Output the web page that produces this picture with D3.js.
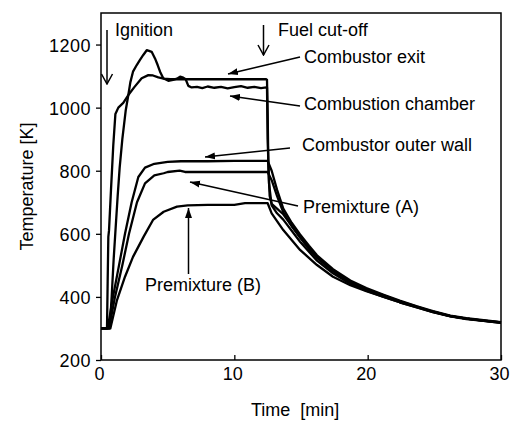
<!DOCTYPE html>
<html>
<head>
<meta charset="utf-8">
<script src="https://cdn.jsdelivr.net/npm/d3@7/dist/d3.min.js"></script>
<style>
  body { margin: 0; background: #fff; }
  text { font-family: "Liberation Sans", Arial, sans-serif; fill: #000; }
</style>
</head>
<body>
<div id="chart"></div>
<script>
// Temperature histories, time in minutes and temperature in K

const exitTime = [0, 0.45, 0.5, 0.55, 0.6, 0.75, 0.92, 1.08, 1.3, 1.67, 2.05, 2.5, 3.05, 3.55, 3.9, 4.3, 4.7, 5.2, 6, 8, 10, 12.4,
                  12.45, 12.5, 12.55, 12.65, 12.8, 13.2, 13.67, 14.3, 14.93, 15.6, 16.2, 17.4, 18.7, 19.9, 21.2, 22.4, 23.7, 24.9, 26.2, 27.4, 28.7, 30];
const exitTemp = [300, 300, 450, 590, 610, 740, 880, 980, 1000, 1015, 1040, 1065, 1093, 1103, 1102, 1096, 1092, 1090, 1090, 1090, 1090, 1090,
                  1088, 980, 820, 720, 695, 680, 662, 625, 590, 555, 525, 483, 447, 425, 405, 386, 369, 353, 339, 331, 325, 319];

const chamberTime = [0, 0.65, 0.8, 0.95, 1.1, 1.25, 1.4, 1.6, 1.85, 2.05, 2.2, 2.4, 2.68, 2.9, 3.17, 3.43, 3.6, 3.8, 4.05, 4.25, 4.43, 4.67,
                     5.05, 5.4, 5.7, 5.93, 6.17, 6.35, 6.55, 6.8, 7.2, 7.6, 8, 8.5, 9, 9.5, 10, 10.5, 11, 11.5, 12, 12.4,
                     12.45, 12.5, 12.6, 12.8, 13.2, 13.67, 14.93, 16.2, 17.4, 18.7, 19.9, 21.2, 22.4, 23.7, 24.9, 26.2, 27.4, 28.7, 30];
const chamberTemp = [300, 300, 400, 520, 620, 720, 810, 900, 990, 1040, 1080, 1114, 1135, 1150, 1167, 1182, 1180, 1177, 1156, 1135, 1114, 1093,
                     1085, 1088, 1092, 1098, 1095, 1090, 1069, 1064, 1066, 1062, 1067, 1063, 1066, 1061, 1065, 1068, 1063, 1066, 1062, 1064,
                     1064, 900, 760, 690, 665, 645, 575, 515, 475, 442, 420, 400, 383, 367, 352, 338, 330, 324, 318];

const wallTime = [0, 0.5, 0.9, 1.35, 1.8, 2.3, 2.8, 3.3, 4, 5, 6, 8, 10, 12.5, 12.8, 13.2, 13.67, 14.3, 14.93, 15.6, 16.2, 17.4, 18.7,
                  19.9, 21.2, 22.4, 23.7, 24.9, 26.2, 27.4, 28.7, 30];
const wallTemp = [300, 300, 400, 500, 600, 700, 780, 810, 822, 828, 830, 830, 831, 831, 800, 740, 680, 635, 598, 562, 532, 488, 452,
                  428, 407, 388, 370, 355, 341, 333, 326, 320];

const premixATime = [0, 0.6, 1.05, 1.6, 2.1, 2.7, 3.3, 4.0, 4.7, 5.0, 5.9, 6.3, 8, 10, 12.5, 12.8, 13.2, 13.67, 14.3, 14.93, 15.6, 16.2,
                     17.4, 18.7, 19.9, 21.2, 22.4, 23.7, 24.9, 26.2, 27.4, 28.7, 30];
const premixATemp = [300, 300, 400, 500, 600, 700, 760, 785, 792, 796, 800, 796, 796, 796, 796, 770, 720, 668, 625, 588, 552, 524,
                     482, 447, 424, 404, 385, 368, 353, 339, 331, 325, 319];

const premixBTime = [0, 0.7, 1.2, 1.8, 2.4, 3.2, 3.9, 4.7, 5.7, 6.5, 8, 10, 10.8, 12.5, 12.8, 13.67, 14.93, 16.2, 17.4, 18.7, 19.9,
                     21.2, 22.4, 23.7, 24.9, 26.2, 27.4, 28.7, 30];
const premixBTemp = [300, 300, 390, 464, 527, 591, 644, 670, 686, 690, 692, 692, 697, 697, 665, 612, 549, 501, 464, 437, 418,
                     400, 383, 367, 352, 339, 331, 324, 318];

const xTicks = [0, 10, 20, 30];
const yTicks = [200, 400, 600, 800, 1000, 1200];
const seriesNames = ["Combustor exit", "Combustion chamber", "Combustor outer wall", "Premixture (A)", "Premixture (B)"];

// Frame
const margin = {top: 13, right: 10, bottom: 61, left: 101};
const width = 511;
const height = 421;
const vis_width = width - margin.left - margin.right;
const vis_height = height - margin.top - margin.bottom;

const svg = d3.select("#chart")
              .append("svg")
              .attr("width", width)
              .attr("height", height);

const plot = svg.append("g")
                .attr("transform", "translate(" + margin.left + "," + margin.top + ")");

const x = d3.scaleLinear().domain([0, 30]).range([0, vis_width]);
const y = d3.scaleLinear().domain([200, 1300]).range([vis_height, 0]);

// Arrow heads
const defs = svg.append("defs");
defs.append("marker")
    .attr("id", "solid")
    .attr("markerUnits", "userSpaceOnUse")
    .attr("viewBox", "0 -4 10 8")
    .attr("refX", 10).attr("refY", 0)
    .attr("markerWidth", 10).attr("markerHeight", 8)
    .attr("orient", "auto")
    .append("path")
    .attr("d", "M0,-3.5L10,0L0,3.5Z")
    .attr("fill", "#000");
defs.append("marker")
    .attr("id", "open")
    .attr("markerUnits", "userSpaceOnUse")
    .attr("viewBox", "-1 -7 12 14")
    .attr("refX", 10).attr("refY", 0)
    .attr("markerWidth", 12).attr("markerHeight", 14)
    .attr("orient", "auto")
    .append("path")
    .attr("d", "M0,-5.5L10,0L0,5.5")
    .attr("fill", "none")
    .attr("stroke", "#000")
    .attr("stroke-width", 1.5);

// Y axis, ticks pointing out
const yAxis = plot.append("g")
                  .call(d3.axisLeft(y).tickValues(yTicks).tickFormat(d3.format("d")).tickSize(5).tickPadding(5))
                  .attr("font-size", null)
                  .attr("font-family", null);
yAxis.select(".domain").remove();
yAxis.selectAll("line").attr("stroke-width", 1.3);
yAxis.selectAll("text").style("font-size", "18px").style("letter-spacing", "0.5px").attr("dy", "0.36em");

// X axis, ticks pointing in
const xAxis = plot.append("g")
                  .attr("transform", "translate(0," + vis_height + ")")
                  .call(d3.axisBottom(x).tickValues(xTicks).tickFormat(d3.format("d")).tickSize(-5).tickPadding(20))
                  .attr("font-size", null)
                  .attr("font-family", null);
xAxis.select(".domain").remove();
xAxis.selectAll("line").attr("stroke-width", 1.3);
xAxis.selectAll("text").style("font-size", "18px").attr("dy", "0").attr("x", -2);

// Plot frame
plot.append("rect")
    .attr("width", vis_width)
    .attr("height", vis_height)
    .attr("fill", "none")
    .attr("stroke", "#000")
    .attr("stroke-width", 1.5);

// Series
const series = [
  {name: seriesNames[0], t: exitTime, v: exitTemp},
  {name: seriesNames[1], t: chamberTime, v: chamberTemp},
  {name: seriesNames[2], t: wallTime, v: wallTemp},
  {name: seriesNames[3], t: premixATime, v: premixATemp},
  {name: seriesNames[4], t: premixBTime, v: premixBTemp}
];

const line = d3.line()
               .x((d) => {return x(d[0]);})
               .y((d) => {return y(d[1]);});

plot.append("g")
    .selectAll("path")
    .data(series)
    .enter()
    .append("path")
    .attr("d", (d) => {return line(d.t.map((t, i) => [t, d.v[i]]));})
    .attr("fill", "none")
    .attr("stroke", "#000")
    .attr("stroke-width", 2.3)
    .attr("stroke-linejoin", "round");

// Axis titles
svg.append("text")
   .attr("transform", "translate(33," + (margin.top + vis_height / 2) + ") rotate(-90)")
   .attr("text-anchor", "middle")
   .style("font-size", "18px")
   .text("Temperature [K]");

svg.append("text")
   .attr("x", 251)
   .attr("y", 416)
   .style("font-size", "18px")
   .style("white-space", "pre")
   .text("Time  [min]");

// Event arrows (open heads)
const events = [
  {text: "Ignition", ax: 107, y0: 30, y1: 84, tx: 115, ty: 36},
  {text: "Fuel cut-off", ax: 263.5, y0: 25, y1: 55, tx: 278, ty: 36}
];
events.forEach((e) => {
  svg.append("line")
     .attr("x1", e.ax).attr("y1", e.y0)
     .attr("x2", e.ax).attr("y2", e.y1)
     .attr("stroke", "#000")
     .attr("stroke-width", 1.5)
     .attr("marker-end", "url(#open)");
  svg.append("text")
     .attr("x", e.tx).attr("y", e.ty)
     .style("font-size", "18px")
     .text(e.text);
});

// Series labels with arrows (solid heads)
const labels = [
  {text: seriesNames[0], tx: 304, ty: 63, x1: 300, y1: 57, x2: 228, y2: 74},
  {text: seriesNames[1], tx: 304, ty: 110, x1: 300, y1: 106, x2: 230, y2: 96},
  {text: seriesNames[2], tx: 302, ty: 151, x1: 290, y1: 148, x2: 205, y2: 157},
  {text: seriesNames[3], tx: 303, ty: 213, x1: 298, y1: 206, x2: 190, y2: 182},
  {text: seriesNames[4], tx: 145, ty: 291, x1: 188.5, y1: 274, x2: 188.5, y2: 208}
];
labels.forEach((l) => {
  svg.append("line")
     .attr("x1", l.x1).attr("y1", l.y1)
     .attr("x2", l.x2).attr("y2", l.y2)
     .attr("stroke", "#000")
     .attr("stroke-width", 1.5)
     .attr("marker-end", "url(#solid)");
  svg.append("text")
     .attr("x", l.tx).attr("y", l.ty)
     .style("font-size", "18px")
     .text(l.text);
});
</script>
</body>
</html>
